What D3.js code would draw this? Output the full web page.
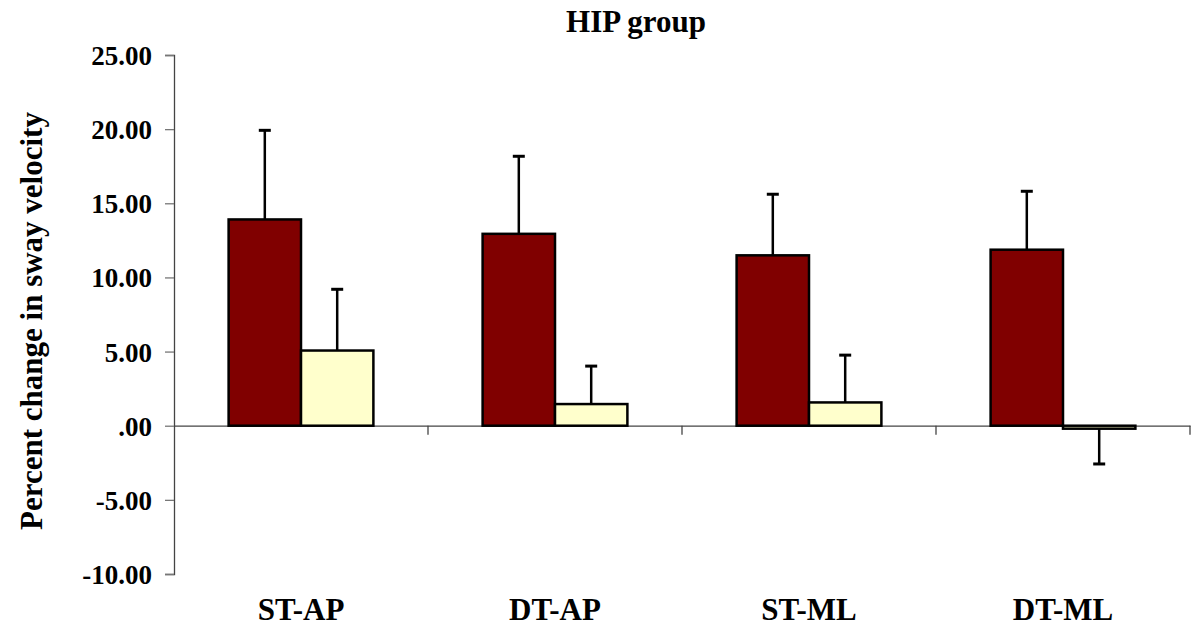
<!DOCTYPE html>
<html>
<head>
<meta charset="utf-8">
<script src="https://cdn.jsdelivr.net/npm/d3@7"></script>
<style>
  body { margin: 0; background: #fff; }
  text { font-family: "Liberation Serif", "Times New Roman", serif; font-weight: bold; fill: #000; }
</style>
</head>
<body>
<div id="chart"></div>
<script>
// Chart data
const categories = ["ST-AP", "DT-AP", "ST-ML", "DT-ML"];
const seriesNames = ["group A", "group B"];
const darkValues = [13.91, 12.94, 11.49, 11.87];
const darkErrors = [6.01, 5.23, 4.12, 3.94];
const lightValues = [5.07, 1.46, 1.57, -0.2];
const lightErrors = [4.13, 2.56, 3.19, -2.38];
const yTicks = [-10, -5, 0, 5, 10, 15, 20, 25];

const width = 1201;
const height = 634;
const margin = { top: 55, right: 11, bottom: 60, left: 174 };
const chartWidth = width - margin.left - margin.right;
const chartHeight = height - margin.top - margin.bottom;

const svg = d3
  .select("#chart")
  .append("svg")
  .attr("width", width)
  .attr("height", height);

const chartGroup = svg
  .append("g")
  .attr("transform", `translate(${margin.left}, ${margin.top})`);

// Scales
const xScale = d3.scaleBand().domain(categories).range([0, chartWidth]).padding(0);
const xInner = d3
  .scaleBand()
  .domain(seriesNames)
  .range([xScale.bandwidth() * 0.215, xScale.bandwidth() * 0.785]);
const yScale = d3.scaleLinear().domain([-10, 25]).range([chartHeight, 0]);

// plain hyphen for negatives, ".00" for zero like the original
const tickFmt = (d) => (d === 0 ? ".00" : d.toFixed(2));

// y axis
const yAxis = chartGroup
  .append("g")
  .call(d3.axisLeft(yScale).tickValues(yTicks).tickFormat(tickFmt).tickSize(9).tickPadding(13));
yAxis.select(".domain").attr("stroke", "#444").attr("stroke-width", 1.3);
yAxis.selectAll(".tick line").attr("stroke", "#777").attr("stroke-width", 1.3);
yAxis
  .selectAll("text")
  .attr("font-family", null)
  .style("font-size", "27px")
  .attr("dy", "0.35em");

// x axis at zero
const xAxis = chartGroup
  .append("g")
  .attr("transform", `translate(0, ${yScale(0)})`)
  .call(d3.axisBottom(xScale).tickSize(0).tickFormat(""));
xAxis.select(".domain").attr("stroke", "#444").attr("stroke-width", 1.3);

// category boundary ticks
chartGroup
  .selectAll(".cat-tick")
  .data(categories.slice(1).concat(["end"]))
  .enter()
  .append("line")
  .attr("x1", (d, i) => xScale.step() * (i + 1))
  .attr("x2", (d, i) => xScale.step() * (i + 1))
  .attr("y1", yScale(0))
  .attr("y2", yScale(0) + 9)
  .attr("stroke", "#444")
  .attr("stroke-width", 1.3);

// category labels
chartGroup
  .selectAll(".cat-label")
  .data(categories)
  .enter()
  .append("text")
  .attr("x", (d) => xScale(d) + xScale.bandwidth() / 2)
  .attr("y", chartHeight + 46)
  .attr("text-anchor", "middle")
  .style("font-size", "31px")
  .text((d) => d);

// bars + error bars
const series = [
  { name: seriesNames[0], values: darkValues, errors: darkErrors, color: "#800000" },
  { name: seriesNames[1], values: lightValues, errors: lightErrors, color: "#FFFFCC" },
];

series.forEach((s) => {
  const rows = categories.map((c, i) => ({ cat: c, v: s.values[i], e: s.errors[i] }));
  const cx = (d) => xScale(d.cat) + xInner(s.name) + xInner.bandwidth() / 2;

  chartGroup
    .selectAll(null)
    .data(rows)
    .enter()
    .append("line")
    .attr("x1", cx)
    .attr("x2", cx)
    .attr("y1", (d) => yScale(d.v))
    .attr("y2", (d) => yScale(d.v + d.e))
    .attr("stroke", "#000")
    .attr("stroke-width", 2.5);

  chartGroup
    .selectAll(null)
    .data(rows)
    .enter()
    .append("line")
    .attr("x1", (d) => cx(d) - 6)
    .attr("x2", (d) => cx(d) + 6)
    .attr("y1", (d) => yScale(d.v + d.e))
    .attr("y2", (d) => yScale(d.v + d.e))
    .attr("stroke", "#000")
    .attr("stroke-width", 3);

  chartGroup
    .selectAll(null)
    .data(rows)
    .enter()
    .append("rect")
    .attr("x", (d) => xScale(d.cat) + xInner(s.name))
    .attr("width", xInner.bandwidth())
    .attr("y", (d) => yScale(Math.max(0, d.v)))
    .attr("height", (d) => Math.abs(yScale(d.v) - yScale(0)))
    .attr("fill", s.color)
    .attr("stroke", "#000")
    .attr("stroke-width", 2.5);
});

// title
svg
  .append("text")
  .attr("x", 636)
  .attr("y", 32)
  .attr("text-anchor", "middle")
  .style("font-size", "31px")
  .text("HIP group");

// y axis title
svg
  .append("text")
  .attr("transform", `translate(42, ${(110 + 532) / 2}) rotate(-90)`)
  .attr("text-anchor", "middle")
  .style("font-size", "31px")
  .text("Percent change in sway velocity");
</script>
</body>
</html>
